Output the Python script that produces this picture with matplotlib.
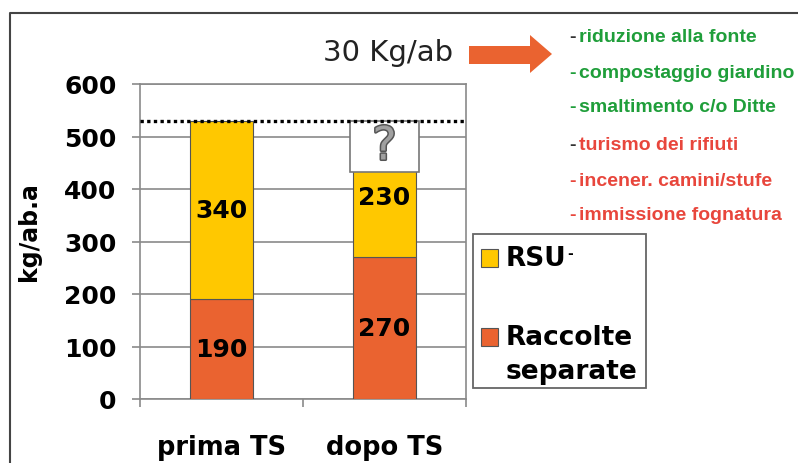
import numpy as np
import matplotlib.pyplot as plt
from matplotlib.patches import Rectangle, Polygon
from matplotlib.lines import Line2D
import matplotlib.patheffects as pe

# data
categories = ["prima TS", "dopo TS"]
separate = [190, 270]      # Raccolte separate
rsu = [340, 230]           # RSU-
yticks = [0, 100, 200, 300, 400, 500, 600]
good_actions = ["riduzione alla fonte", "compostaggio giardino", "smaltimento c/o Ditte"]
bad_actions = ["turismo dei rifiuti", "incener. camini/stufe", "immissione fognatura"]
reduction_text = "30 Kg/ab"

ORANGE = "#EA6330"
YELLOW = "#FFC800"
GREEN = "#1f9e3a"
RED = "#e8463c"
GRID = "#8a8a8a"

W, H = 798, 464
fig = plt.figure(figsize=(W / 100, H / 100), dpi=100)


def fx(x):
    return x / W


def fy(y):
    return 1 - y / H


ax = fig.add_axes([fx(140), fy(400), (466 - 140) / W, (400 - 85) / H])
x = np.arange(len(categories))
bw = 0.39
ax.bar(x, separate, width=bw, color=ORANGE, edgecolor="#555", linewidth=0.8, zorder=3)
ax.bar(x, rsu, bottom=separate, width=bw, color=YELLOW, edgecolor="#555", linewidth=0.8, zorder=3)

totals = np.array(separate) + np.array(rsu)
for i in range(len(categories)):
    ax.text(x[i], separate[i] / 2, str(separate[i]), ha="center", va="center",
            fontsize=18, fontweight="bold", color="black", zorder=4)
    ax.text(x[i], separate[i] + rsu[i] / 2, str(rsu[i]), ha="center", va="center",
            fontsize=18, fontweight="bold", color="black", zorder=4)

# "?" box covering the top of the second bar, up to the first total
ax.add_patch(Rectangle((x[1] - 0.21, 432), 0.42, totals[0] - 432, facecolor="white",
                       edgecolor="#777", linewidth=1.2, zorder=5))
ax.text(x[1], 480, "?", ha="center", va="center", fontsize=33, color="#a0a0a0", zorder=6,
        path_effects=[pe.withStroke(linewidth=2.2, foreground="#555")])
ax.axhline(totals[0], color="black", linestyle=(0, (1, 1)), linewidth=2.4, zorder=7)

ax.set_xlim(-0.5, 1.5)
ax.set_ylim(0, 600)
ax.set_yticks(yticks)
ax.yaxis.grid(True, color=GRID, linewidth=1.2)
ax.set_axisbelow(True)
ax.tick_params(axis="y", length=6, width=1.2, color=GRID, pad=11, labelsize=18)
ax.set_xticks(x)
ax.set_xticklabels(categories)
ax.tick_params(axis="x", length=0, pad=25, labelsize=18.5)
ax.set_xticks([-0.5, 0.5, 1.5], minor=True)
ax.tick_params(axis="x", which="minor", length=6, width=1.2, color=GRID)
for lbl in ax.get_xticklabels() + ax.get_yticklabels():
    lbl.set_fontweight("bold")
for s in ax.spines.values():
    s.set_color(GRID)
    s.set_linewidth(1.2)

fig.text(fx(29), fy(232), "kg/ab.a", rotation=90, ha="center", va="center",
         fontsize=17, fontweight="bold")

# outer frame (left + top)
fig.add_artist(Line2D([fx(10), fx(10), fx(797)], [fy(464), fy(14), fy(14)],
                      transform=fig.transFigure, color="#444", linewidth=1.5))

# 30 Kg/ab + arrow
fig.text(fx(323), fy(53), reduction_text, ha="left", va="center", fontsize=21, color="#222")
arrow_px = [(469, 47), (530, 47), (530, 36), (552, 55), (530, 74), (530, 65), (469, 65)]
fig.add_artist(Polygon([(fx(a), fy(b)) for a, b in arrow_px], closed=True,
                       transform=fig.transFigure, facecolor=ORANGE, edgecolor="none"))

# list of measures on the right
line_y = [37, 73, 108, 145, 181, 216]
actions = good_actions + bad_actions
colors = [GREEN] * len(good_actions) + [RED] * len(bad_actions)
dash_colors = ["#333", GREEN, GREEN, "#333", RED, RED]
for yy, txt, c, dc in zip(line_y, actions, colors, dash_colors):
    fig.text(fx(569), fy(yy), "-", ha="left", va="center", fontsize=14,
             fontweight="bold", family="Liberation Sans", color=dc)
    fig.text(fx(579), fy(yy), txt, ha="left", va="center", fontsize=14,
             fontweight="bold", family="Liberation Sans", color=c)

# legend box
fig.add_artist(Rectangle((fx(473), fy(389)), (646 - 473) / W, (389 - 235) / H,
                         transform=fig.transFigure, facecolor="white",
                         edgecolor="#666", linewidth=1.3))
fig.add_artist(Rectangle((fx(481), fy(268)), 17 / W, 18 / H, transform=fig.transFigure,
                         facecolor=YELLOW, edgecolor="#555", linewidth=0.8))
fig.add_artist(Rectangle((fx(481), fy(347)), 17 / W, 18 / H, transform=fig.transFigure,
                         facecolor=ORANGE, edgecolor="#555", linewidth=0.8))
fig.text(fx(506), fy(259), "RSU", ha="left", va="center", fontsize=19, fontweight="bold")
fig.text(fx(567), fy(254), "-", ha="left", va="center", fontsize=10, fontweight="bold")
fig.text(fx(506), fy(338), "Raccolte", ha="left", va="center", fontsize=19, fontweight="bold")
fig.text(fx(506), fy(372), "separate", ha="left", va="center", fontsize=19, fontweight="bold")

fig.savefig("out.png", dpi=100)
